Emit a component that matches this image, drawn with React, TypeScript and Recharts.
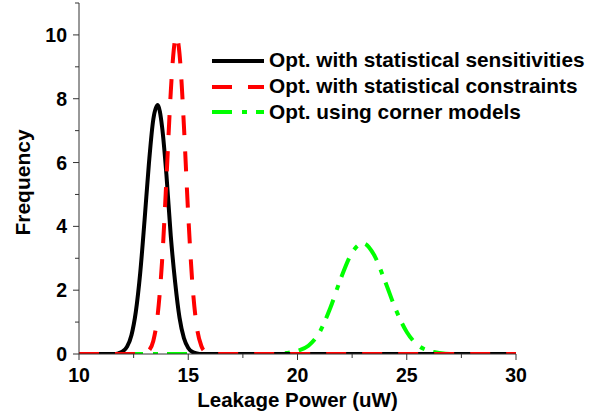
import React from "react";
import { LineChart, Line, XAxis, YAxis, Legend } from "recharts";

// Opt. with statistical sensitivities (black, solid)
const sensX = [10, 11.6, 11.8, 12.0, 12.2, 12.4, 12.6, 12.8, 13.0, 13.2, 13.4, 13.6, 13.8, 14.0, 14.2, 14.4, 14.6, 14.8, 15.0, 15.2, 15.4, 15.6, 30];
const sensY = [0, 0, 0.02, 0.08, 0.23, 0.59, 1.32, 2.53, 4.19, 5.97, 7.35, 7.8, 7.13, 5.63, 3.7, 2.25, 1.14, 0.5, 0.19, 0.06, 0.02, 0, 0];

// Opt. with statistical constraints (red, dashed)
const consX = [10, 12.8, 13.0, 13.2, 13.4, 13.6, 13.8, 14.0, 14.2, 14.3, 14.45, 14.6, 14.7, 14.8, 15.0, 15.2, 15.4, 15.6, 15.8, 16.0, 16.2, 30];
const consY = [0, 0, 0.02, 0.11, 0.41, 1.22, 2.89, 5.46, 8.21, 9.25, 9.97, 9.41, 8.45, 7.17, 4.35, 2.11, 0.81, 0.25, 0.06, 0.01, 0, 0];

// Opt. using corner models (green, dash-dot)
const cornerX = [10, 19.0, 19.5, 20.0, 20.5, 21.0, 21.5, 22.0, 22.5, 23.0, 23.5, 24.0, 24.5, 25.0, 25.5, 26.0, 26.5, 27.0, 30];
const cornerY = [0, 0, 0.03, 0.1, 0.26, 0.67, 1.44, 2.4, 3.18, 3.47, 3.11, 2.29, 1.39, 0.69, 0.28, 0.1, 0.03, 0, 0];

const xTicks = [10, 12.5, 15, 17.5, 20, 22.5, 25, 27.5, 30];
const yTicks = [0, 1, 2, 3, 4, 5, 6, 7, 8, 9, 10, 11];

const seriesNames = [
  "Opt. with statistical sensitivities",
  "Opt. with statistical constraints",
  "Opt. using corner models",
];
const seriesColors = ["#000000", "#ff0000", "#00ff00"];
const seriesDash = ["", "20 16", "20 10 5 9"];

const xLabel = "Leakage Power (uW)";
const yLabel = "Frequency";

const FONT = "'Liberation Sans', Arial, Helvetica, sans-serif";
const AXIS_COLOR = "#333";
const TICK_SIZE = 6;
const Y_TICK_MARGIN = 6;
const X_TICK_MARGIN = 8;

const toData = (xs: number[], ys: number[]) => xs.map((x, i) => ({ x, y: ys[i] }));

const sensData = toData(sensX, sensY);
const consData = toData(consX, consY);
const cornerData = toData(cornerX, cornerY);

const YTick = (props: any) => {
  const { x, y, payload } = props;
  const v = payload.value;
  const major = v % 2 === 0;
  const axisX = x + TICK_SIZE + Y_TICK_MARGIN;
  return (
    <g>
      <line x1={axisX} x2={axisX - (major ? TICK_SIZE : 4)} y1={y} y2={y} stroke={AXIS_COLOR} strokeWidth={1} />
      {major && v <= 10 && (
        <text x={x} y={y} dy="0.36em" textAnchor="end" fontFamily={FONT} fontWeight="bold" fontSize={19.5} fill="#000">
          {v}
        </text>
      )}
    </g>
  );
};

const XTick = (props: any) => {
  const { x, y, payload } = props;
  const v = payload.value;
  const major = v % 5 === 0;
  const axisY = y - TICK_SIZE - X_TICK_MARGIN;
  return (
    <g>
      <line x1={x} x2={x} y1={axisY} y2={axisY + (major ? TICK_SIZE : 4)} stroke={AXIS_COLOR} strokeWidth={1} />
      {major && (
        <text x={x} y={y} dy="0.71em" textAnchor="middle" fontFamily={FONT} fontWeight="bold" fontSize={19.5} fill="#000">
          {v}
        </text>
      )}
    </g>
  );
};

const YLabel = (props: any) => {
  const { viewBox } = props;
  const cx = viewBox.x + 30;
  const cy = viewBox.y + viewBox.height / 2 + 4;
  return (
    <text
      x={cx}
      y={cy}
      transform={`rotate(-90, ${cx}, ${cy})`}
      textAnchor="middle"
      fontFamily={FONT}
      fontWeight="bold"
      fontSize={21}
      fill="#000"
    >
      {yLabel}
    </text>
  );
};

const LegendContent = () => (
  <div style={{ fontFamily: FONT }}>
    {seriesNames.map((name, i) => (
      <div key={name} style={{ display: "flex", alignItems: "center", height: 25.7 }}>
        <svg width={52} height={8} style={{ display: "block" }}>
          <line x1={0} x2={52} y1={4} y2={4} stroke={seriesColors[i]} strokeWidth={4} strokeDasharray={seriesDash[i] || undefined} />
        </svg>
        <span style={{ marginLeft: 5, fontSize: 20.8, fontWeight: "bold", color: "#000", whiteSpace: "nowrap", lineHeight: 1 }}>
          {name}
        </span>
      </div>
    ))}
  </div>
);

export default function App() {
  return (
    <div style={{ width: 592, height: 414, background: "#fff" }}>
      <style>{"body{margin:0;background:#fff}"}</style>
      <LineChart width={592} height={414} margin={{ top: 3, right: 76, bottom: 0, left: 0 }}>
        <XAxis
          type="number"
          dataKey="x"
          domain={[10, 30]}
          ticks={xTicks}
          interval={0}
          allowDataOverflow
          height={60}
          tickSize={TICK_SIZE}
          tickMargin={X_TICK_MARGIN}
          tickLine={false}
          tick={<XTick />}
          axisLine={{ stroke: AXIS_COLOR, strokeWidth: 1 }}
          label={{
            value: xLabel,
            position: "insideBottom",
            offset: 7,
            style: { fontFamily: FONT, fontWeight: "bold", fontSize: 20.5, fill: "#000" },
          }}
        />
        <YAxis
          type="number"
          domain={[0, 11]}
          ticks={yTicks}
          interval={0}
          allowDataOverflow
          width={79}
          tickSize={TICK_SIZE}
          tickMargin={Y_TICK_MARGIN}
          tickLine={false}
          tick={<YTick />}
          axisLine={{ stroke: AXIS_COLOR, strokeWidth: 1 }}
          label={<YLabel />}
        />
        <Legend
          layout="vertical"
          align="center"
          verticalAlign="middle"
          content={<LegendContent />}
          wrapperStyle={{ left: 212, top: 48, right: "auto", bottom: "auto", width: "auto" }}
        />
        <Line
          data={cornerData}
          dataKey="y"
          type="monotone"
          stroke={seriesColors[2]}
          strokeWidth={4}
          strokeDasharray={seriesDash[2]}
          dot={false}
          activeDot={false}
          isAnimationActive={false}
          legendType="none"
        />
        <Line
          data={sensData}
          dataKey="y"
          type="monotone"
          stroke={seriesColors[0]}
          strokeWidth={4}
          dot={false}
          activeDot={false}
          isAnimationActive={false}
          legendType="none"
        />
        <Line
          data={consData}
          dataKey="y"
          type="monotone"
          stroke={seriesColors[1]}
          strokeWidth={4}
          strokeDasharray={seriesDash[1]}
          dot={false}
          activeDot={false}
          isAnimationActive={false}
          legendType="none"
        />
      </LineChart>
    </div>
  );
}
